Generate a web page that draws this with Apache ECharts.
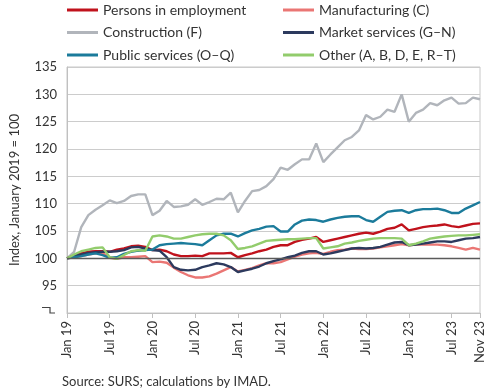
<!DOCTYPE html>
<html>
<head>
<meta charset="utf-8">
<script src="https://cdn.jsdelivr.net/npm/echarts@6/dist/echarts.min.js"></script>
<style>
html,body{margin:0;padding:0;background:#fff;}
#chart{width:490px;height:391px;}
</style>
</head>
<body>
<div id="chart"></div>
<script>
// Months Jan 2019 .. Nov 2023
const monthNames = ['Jan','Feb','Mar','Apr','May','Jun','Jul','Aug','Sep','Oct','Nov','Dec'];
const categories = [];
for (let y = 19; y <= 23; y++) {
  for (let m = 0; m < 12; m++) {
    if (y === 23 && m > 10) break;
    categories.push(monthNames[m] + ' ' + y);
  }
}
const shownLabels = ['Jan 19','Jul 19','Jan 20','Jul 20','Jan 21','Jul 21','Jan 22','Jul 22','Jan 23','Jul 23','Nov 23'];

const personsEmployment = [100.0,100.5,100.9,101.2,101.3,101.3,101.2,101.6,101.8,102.2,102.3,102.1,
  101.5,101.6,101.3,100.7,100.4,100.4,100.5,100.4,100.9,100.9,100.9,101.0,
  100.2,100.6,100.9,101.3,101.6,102.1,102.4,102.4,103.0,103.4,103.6,103.9,
  103.0,103.3,103.6,103.9,104.2,104.5,104.7,104.5,104.9,105.4,105.6,106.2,
  105.1,105.4,105.7,105.9,106.0,106.2,105.9,105.7,106.0,106.3,106.4];
const manufacturing = [100.0,100.2,100.4,100.7,100.9,101.0,100.1,99.9,100.2,100.2,100.3,100.4,
  99.3,99.4,99.2,98.3,97.5,96.9,96.5,96.5,96.7,97.2,97.8,98.4,
  97.6,97.9,98.2,98.7,99.1,99.1,99.3,99.8,100.3,100.7,100.9,101.0,
  100.8,101.2,101.5,101.6,101.8,101.7,101.7,101.8,102.0,102.2,102.4,102.6,
  102.4,102.5,102.5,102.5,102.5,102.4,102.2,101.9,101.6,101.9,101.6];
const construction = [100.0,101.2,105.7,107.9,108.9,109.7,110.6,110.1,110.5,111.4,111.7,111.7,
  107.9,108.7,110.5,109.4,109.5,109.8,110.8,109.8,110.3,110.9,110.8,112.0,
  108.4,110.5,112.3,112.5,113.2,114.5,116.6,116.2,117.2,118.1,118.1,121.0,
  117.6,119.0,120.3,121.6,122.2,123.4,126.2,125.4,125.9,127.2,126.8,130.0,
  125.0,126.6,127.2,128.4,128.0,128.9,129.4,128.3,128.4,129.4,129.1];
const marketServices = [100.0,100.5,100.7,101.0,101.1,101.2,101.2,101.3,101.5,102.0,102.1,101.8,
  101.5,101.4,100.2,98.4,97.9,97.8,97.9,98.4,98.7,99.1,98.9,98.4,
  97.5,97.8,98.1,98.5,99.1,99.5,99.8,100.2,100.5,101.0,101.3,101.3,
  100.7,100.9,101.2,101.5,101.8,101.9,101.8,101.9,102.1,102.5,102.9,103.0,
  102.4,102.5,102.7,102.9,103.1,103.1,103.0,103.3,103.6,103.7,103.9];
const publicServices = [100.0,100.2,100.4,100.7,100.9,100.6,100.1,100.2,100.8,101.2,101.4,101.5,
  101.6,102.4,102.6,102.7,102.8,102.7,102.6,102.4,103.3,104.2,104.5,104.5,
  104.0,104.6,105.1,105.4,105.8,105.9,104.9,104.9,106.2,106.9,107.1,107.0,
  106.7,107.1,107.4,107.6,107.7,107.7,107.0,106.7,107.6,108.5,108.7,108.8,
  108.3,108.8,109.0,109.0,109.1,108.8,108.3,108.3,109.1,109.7,110.3];
const other = [100.0,100.7,101.3,101.6,101.9,102.0,100.2,99.9,100.6,101.3,101.5,101.4,
  104.0,104.2,104.0,103.6,103.6,103.9,104.2,104.4,104.5,104.5,104.2,103.3,
  101.7,101.9,102.2,102.7,103.2,103.3,103.4,103.5,103.5,103.6,103.7,103.7,
  101.8,102.0,102.2,102.7,102.9,103.2,103.4,103.6,103.7,103.7,103.7,103.6,
  102.4,102.7,103.1,103.6,103.8,104.0,104.1,104.2,104.2,104.3,104.4];

const seriesNames = ['Persons in employment','Manufacturing (C)','Construction (F)','Market services (G–N)','Public services (O–Q)','Other (A, B, D, E, R–T)'];
const seriesData = [personsEmployment, manufacturing, construction, marketServices, publicServices, other];
const seriesColors = ['#c0121c','#ea7674','#b1b5bb','#2c3a5e','#1b7b9b','#92cc6c'];
const baselineValue = 100;
const yMin = 90, yMax = 135, yStep = 5;

const FONT = 'Lato';
const chart = echarts.init(document.getElementById('chart'), null, {renderer:'canvas'});

const series = seriesNames.map((name, k) => ({
  name: name,
  type: 'line',
  data: seriesData[k],
  symbol: 'none',
  smooth: false,
  lineStyle: {color: seriesColors[k], width: 2.4},
  itemStyle: {color: seriesColors[k]},
  z: k === 2 ? 2 : 3,
  animation: false
}));
series.push({
  name: '__base', type: 'line', data: [], symbol: 'none', z: 1,
  markLine: {
    silent: true, symbol: 'none', animation: false,
    label: {show: false},
    lineStyle: {color: '#5a5a5a', width: 1.4, type: 'solid'},
    data: [{yAxis: baselineValue}]
  }
});

const legendCommon = {
  orient: 'vertical',
  icon: 'rect',
  itemWidth: 31,
  itemHeight: 3,
  itemGap: 8.5,
  textStyle: {fontFamily: FONT, fontSize: 14, color: '#333'},
  selectedMode: false
};

const sourceText = {type: 'text', left: 62, top: 375,
  style: {text: 'Source: SURS; calculations by IMAD.', fontFamily: FONT, fontSize: 13, fill: '#333'}};

chart.setOption({
  animation: false,
  backgroundColor: '#fff',
  textStyle: {fontFamily: FONT},
  legend: [
    Object.assign({}, legendCommon, {left: 62, top: -2, data: [seriesNames[0], seriesNames[2], seriesNames[4]]}),
    Object.assign({}, legendCommon, {left: 278, top: -2, data: [seriesNames[1], seriesNames[3], seriesNames[5]]})
  ],
  grid: {left: 66.7, right: 10, top: 67, bottom: 78, show: true, borderColor: '#c8c8c8', borderWidth: 1, containLabel: false},
  xAxis: {
    type: 'category',
    data: categories,
    boundaryGap: false,
    axisLine: {lineStyle: {color: '#c0c0c0', width: 1}},
    axisTick: {show: true, length: 5, lineStyle: {color: '#c0c0c0'},
      interval: (i, v) => shownLabels.indexOf(v) >= 0},
    axisLabel: {rotate: 90, fontFamily: FONT, fontSize: 13, color: '#333', margin: 8,
      interval: (i, v) => shownLabels.indexOf(v) >= 0, hideOverlap: false},
    splitLine: {show: false}
  },
  yAxis: {
    type: 'value',
    min: yMin, max: yMax, interval: yStep,
    name: 'Index, January 2019 = 100',
    nameLocation: 'middle',
    nameGap: 46,
    nameTextStyle: {fontFamily: FONT, fontSize: 13, color: '#333'},
    axisLine: {show: true, lineStyle: {color: '#c0c0c0'}},
    axisTick: {show: false},
    axisLabel: {fontFamily: FONT, fontSize: 13, color: '#333', margin: 10,
      formatter: v => (v === yMin ? '' : String(v))},
    splitLine: {show: true, lineStyle: {color: '#cccccc', width: 1}}
  },
  series: series,
  graphic: [sourceText]
});

// axis-break mark at the bottom of the y axis
const p = chart.convertToPixel({gridIndex: 0}, [0, yMin]);
chart.setOption({
  graphic: [
    sourceText,
    {type: 'polyline', shape: {points: [[p[0]-25, p[1]-5.5],[p[0]-17, p[1]-5.5],[p[0]-17, p[1]],[p[0]-12, p[1]]]},
      style: {stroke: '#444', lineWidth: 1.2, fill: null}}
  ]
});
</script>
</body>
</html>
